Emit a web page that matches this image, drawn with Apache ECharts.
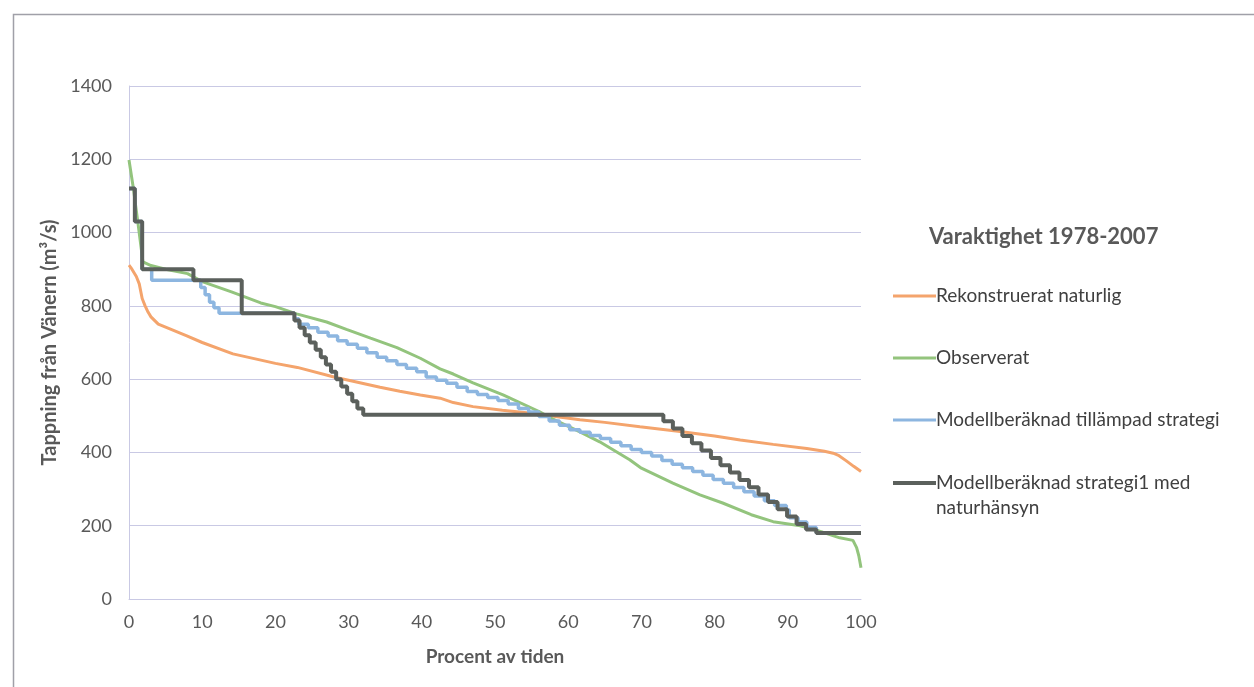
<!DOCTYPE html>
<html><head><meta charset="utf-8">
<script src="https://cdn.jsdelivr.net/npm/echarts@6/dist/echarts.min.js"></script>
<style>html,body{margin:0;padding:0;background:#fff}#c{width:1254px;height:687px}</style>
</head><body><div id="c"></div>
<script>
const seriesNames = ['Rekonstruerat naturlig','Observerat','Modellberäknad tillämpad strategi','Modellberäknad strategi1 med\nnaturhänsyn'];
const xTicks = [0,10,20,30,40,50,60,70,80,90,100];
const yTicks = [0,200,400,600,800,1000,1200,1400];

const rekonstruerat = [[0,911],[0.4,900],[1,880],[1.4,860],[1.8,820],[2.2,800],[2.6,783],[3,770],[4,750],[5.5,738],[7.9,718],[10,700],[14.2,669],[20,643],[23,632],[28,606],[34.3,578],[37,567],[39.8,557],[42.5,548],[44.3,536],[47,525],[51,515],[55,507],[58,499],[61.6,489],[65,482],[69.8,470],[75,458],[80,445],[83.5,434],[88,422],[92.6,411],[95,403],[96.2,398],[97,391],[98,377],[99,362],[100,348]];

const observerat = [[0,1198],[0.6,1120],[1.2,1030],[1.9,920],[3,910],[5,900],[8,888],[10,866],[14,838],[18,808],[20,798],[22.9,778],[27,756],[29.7,736],[33,712],[36.6,686],[39.8,657],[42.5,628],[44.3,614],[47,590],[51.1,557],[56.1,511],[58,490],[61.6,456],[64.3,429],[68.4,380],[70,357],[74.3,316],[78,284],[81.1,262],[85,230],[88,211],[91.7,200],[94.8,182],[97.1,167],[98.9,160],[99.4,140],[99.7,118],[100,85]];

const tillampad = [[0,1120],[0.8,1030],[1.8,900],[3.1,870],[9.8,850],[10.4,830],[11.0,810],[11.6,795],[12.3,780],[22.6,765],[23.2,750],[24.5,740],[25.8,728],[27.2,718],[28.5,705],[29.8,695],[31.2,684],[32.5,672],[33.9,660],[35.2,650],[36.6,640],[37.9,630],[39.3,620],[40.6,606],[42.0,597],[43.4,589],[44.8,578],[46.2,566],[47.6,558],[49.0,550],[50.4,542],[51.8,532],[53.2,520],[54.6,510],[56.0,498],[57.4,486],[58.8,474],[60.2,462],[61.6,455],[63.0,446],[64.4,438],[65.8,428],[67.2,418],[68.6,408],[70.0,400],[71.4,390],[72.8,378],[74.2,368],[75.6,358],[77.0,348],[78.4,338],[79.8,326],[81.2,316],[82.6,304],[84.0,293],[85.4,281],[86.8,268],[88.2,255],[89.8,243],[90.2,222],[91.4,210],[92.6,195],[93.9,180],[100,180]];

const strategi1 = [[0,1120],[0.8,1030],[1.8,900],[8.8,870],[15.4,780],[22.6,760],[23.3,740],[24.0,720],[24.7,700],[25.5,680],[26.2,660],[26.9,640],[27.6,620],[28.3,600],[29.0,580],[29.8,560],[30.5,540],[31.2,520],[32.0,503],[73.0,485],[74.3,465],[75.6,445],[76.9,425],[78.2,405],[79.5,385],[80.8,365],[82.1,345],[83.4,325],[84.7,305],[86.0,285],[87.3,265],[88.6,245],[89.9,225],[91.2,205],[92.5,190],[93.9,180],[100,180]];

const colors = ['#f4a46c','#93c47d','#8db6e0','#5b605c'];
const font = 'Lato, "Open Sans", sans-serif';
const txt = '#595959';

const chart = echarts.init(document.getElementById('c'), null, {renderer:'canvas'});
chart.setOption({
  animation:false,
  backgroundColor:'#fff',
  color: colors,
  graphic:[{type:'rect', shape:{x:13.5,y:14.5,width:1300,height:700}, style:{fill:'none', stroke:'#a0a0a8', lineWidth:1.5}, silent:true}],
  title:{text:'Varaktighet 1978-2007', left:929, top:226, padding:0, textStyle:{fontFamily:font, fontSize:22, fontWeight:'bold', color:txt}},
  legend:[
    {data:seriesNames.slice(0,3), orient:'vertical', left:893, top:283.5, padding:0, itemGap:37, itemWidth:43, itemHeight:3, icon:'rect',
     textStyle:{fontFamily:font, fontSize:19, color:'#404040', lineHeight:25, padding:[0,0,0,-5]}},
    {data:[seriesNames[3]], orient:'vertical', left:893, top:445.5, padding:0, itemWidth:43, itemHeight:4, icon:'rect',
     formatter: n => ' \n' + n,
     textStyle:{fontFamily:font, fontSize:19, color:'#404040', lineHeight:25, padding:[0,0,0,-5]}}
  ],
  grid:{left:129, right:393, top:86, bottom:88},
  xAxis:{type:'value', min:xTicks[0], max:xTicks[xTicks.length-1], interval:10,
    name:'Procent av tiden', nameLocation:'middle', nameGap:48,
    nameTextStyle:{fontFamily:font, fontSize:19, fontWeight:'bold', color:txt},
    axisLine:{show:true, lineStyle:{color:'#c9c9e4', width:1}}, axisTick:{show:false},
    axisLabel:{fontFamily:font, fontSize:18, color:txt, margin:14},
    splitLine:{show:false}},
  yAxis:{type:'value', min:yTicks[0], max:yTicks[yTicks.length-1], interval:200,
    name:'Tappning från Vänern (m³/s)', nameLocation:'middle', nameGap:68,
    nameTextStyle:{fontFamily:font, fontSize:20, fontWeight:'bold', color:txt},
    axisLine:{show:true, lineStyle:{color:'#c9c9e4', width:1}}, axisTick:{show:false},
    axisLabel:{fontFamily:font, fontSize:18, color:txt, margin:17, formatter: v => String(v)},
    splitLine:{show:true, lineStyle:{color:'#c9c9e4', width:1}}},
  series:[
    {name:seriesNames[0], type:'line', data:rekonstruerat, showSymbol:false, symbol:'none', lineStyle:{width:3, color:colors[0]}, z:2},
    {name:seriesNames[1], type:'line', data:observerat, showSymbol:false, symbol:'none', lineStyle:{width:3, color:colors[1]}, z:3},
    {name:seriesNames[2], type:'line', step:'end', data:tillampad, showSymbol:false, symbol:'none', lineStyle:{width:3.5, color:colors[2]}, z:4},
    {name:seriesNames[3], type:'line', step:'end', data:strategi1, showSymbol:false, symbol:'none', lineStyle:{width:4, color:colors[3]}, z:5}
  ]
});
</script></body></html>
